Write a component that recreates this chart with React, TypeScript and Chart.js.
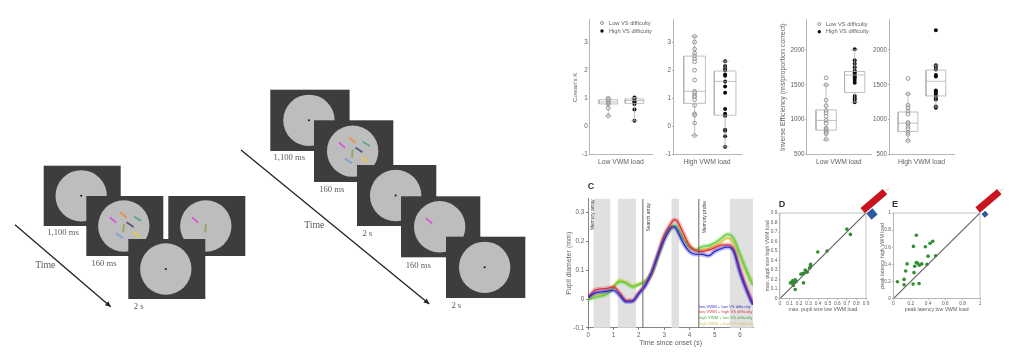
import React, { useEffect, useRef } from "react";
import { Chart, registerables } from "chart.js";

Chart.register(...registerables);

// ---------- Panel A: Cowan's K (box stats are [low whisker, q1, median, q3, high whisker])
const kTicks = [-1, 0, 1, 2, 3];
const kLowLoadEasy = [0.38, 0.65, 0.8, 0.84, 0.88, 0.92, 0.96, 1.0];
const kLowLoadHard = [0.2, 0.6, 0.8, 0.85, 0.9, 0.95, 1.0, 1.03];
const kLowLoadEasyBox = [0.38, 0.8, 0.87, 0.95, 1.0];
const kLowLoadHardBox = [0.2, 0.82, 0.92, 0.98, 1.03];
const kHighLoadEasy = [3.2, 3.0, 2.75, 2.6, 2.5, 2.4, 2.3, 2.0, 1.65, 1.25, 1.2, 1.1, 1.05, 0.95, 0.75, 0.45, 0.4, 0.12, -0.32];
const kHighLoadHard = [2.32, 2.15, 2.05, 2.0, 1.85, 1.8, 1.6, 1.42, 1.2, 0.62, 0.45, 0.4, 0.38, -0.12, -0.15, -0.35, -0.72];
const kHighLoadEasyBox = [-0.32, 0.82, 1.25, 2.5, 3.2];
const kHighLoadHardBox = [-0.72, 0.4, 1.6, 1.97, 2.32];

// ---------- Panel B: Inverse efficiency
const ieTicks = [500, 1000, 1500, 2000];
const ieLowLoadEasy = [1600, 1500, 1280, 1200, 1130, 1100, 1050, 990, 950, 880, 860, 840, 820, 800, 720];
const ieLowLoadHard = [2010, 1850, 1800, 1750, 1700, 1680, 1650, 1620, 1600, 1570, 1530, 1340, 1310, 1290, 1250];
const ieLowLoadEasyBox = [710, 850, 990, 1140, 1500];
const ieLowLoadHardBox = [1250, 1390, 1640, 1690, 2000];
const ieHighLoadEasy = [1590, 1370, 1210, 1170, 1120, 1080, 960, 940, 900, 870, 820, 790, 700];
const ieHighLoadHard = [2280, 1780, 1760, 1720, 1640, 1620, 1420, 1400, 1370, 1340, 1300, 1290, 1190, 1170];
const ieHighLoadEasyBox = [700, 830, 950, 1110, 1370];
const ieHighLoadHardBox = [1180, 1340, 1550, 1710, 1780];

// ---------- Panel C: pupil traces
const cXTicks = [0, 1, 2, 3, 4, 5, 6];
const cYTicks = [-0.1, 0, 0.1, 0.2, 0.3];
const times = [0, 0.25, 0.5, 0.75, 1, 1.25, 1.5, 1.75, 2, 2.25, 2.5, 2.75, 3, 3.25, 3.4, 3.5, 3.75, 4, 4.25, 4.5, 4.75, 5, 5.25, 5.5, 5.75, 6, 6.25, 6.5];
const pupilBlue = [0.005, 0.02, 0.024, 0.027, 0.03, 0.012, -0.01, -0.008, 0.018, 0.045, 0.09, 0.15, 0.205, 0.245, 0.25, 0.24, 0.195, 0.165, 0.155, 0.155, 0.15, 0.165, 0.175, 0.18, 0.165, 0.09, 0.03, -0.02];
const pupilRed = [0.005, 0.03, 0.035, 0.037, 0.042, 0.02, -0.005, -0.005, 0.022, 0.05, 0.09, 0.155, 0.22, 0.26, 0.275, 0.272, 0.23, 0.185, 0.168, 0.165, 0.17, 0.178, 0.187, 0.188, 0.172, 0.1, 0.04, -0.015];
const pupilGreen = [-0.002, 0.005, 0.01, 0.018, 0.04, 0.06, 0.055, 0.042, 0.05, 0.06, 0.09, 0.15, 0.215, 0.25, 0.255, 0.25, 0.21, 0.18, 0.17, 0.182, 0.185, 0.195, 0.21, 0.225, 0.21, 0.155, 0.1, 0.048];
const pupilYellow = [0, 0.012, 0.015, 0.02, 0.045, 0.065, 0.058, 0.045, 0.052, 0.062, 0.085, 0.145, 0.205, 0.24, 0.25, 0.248, 0.215, 0.185, 0.17, 0.172, 0.175, 0.185, 0.198, 0.212, 0.195, 0.15, 0.095, 0.05];
const bandStarts = [0.21, 1.17, 3.29, 5.6];
const bandEnds = [0.87, 1.89, 3.59, 6.51];
const eventTimes = [2.16, 4.37];
const eventNames = ["Memory array", "Search array", "Memory probe"];
const traceNames = ["low VWM + low VS difficulty", "low VWM + high VS difficulty", "high VWM + low VS difficulty", "high VWM + high VS difficulty"];

// ---------- Panels D and E: scatter
const dTicks = [0, 0.1, 0.2, 0.3, 0.4, 0.5, 0.6, 0.7, 0.8, 0.9];
const eTicks = [0, 0.2, 0.4, 0.6, 0.8, 1];
const sizeLow = [0.7, 0.737, 0.396, 0.493, 0.32, 0.16, 0.247, 0.135, 0.16, 0.11, 0.135, 0.14, 0.17, 0.22, 0.24, 0.264, 0.25, 0.285, 0.31, 0.32, 0.275, 0.12, 0.15];
const sizeHigh = [0.73, 0.675, 0.49, 0.5, 0.36, 0.095, 0.165, 0.19, 0.197, 0.165, 0.158, 0.137, 0.18, 0.257, 0.264, 0.3, 0.267, 0.278, 0.32, 0.34, 0.285, 0.17, 0.175];
const latencyLow = [0.046, 0.123, 0.123, 0.227, 0.296, 0.142, 0.158, 0.238, 0.246, 0.265, 0.231, 0.369, 0.423, 0.454, 0.4, 0.488, 0.388, 0.28, 0.3, 0.327, 0.265];
const latencyHigh = [0.197, 0.224, 0.161, 0.169, 0.177, 0.323, 0.405, 0.303, 0.378, 0.74, 0.61, 0.606, 0.646, 0.669, 0.496, 0.5, 0.4, 0.413, 0.39, 0.405, 0.42];

// ---------- Text
const difficultyNames = ["Low VS difficulty", "High VS difficulty"];
const loadNames = ["Low VWM load", "High VWM load"];

const GREY = "#5f5f5f";
const SANS = "'Liberation Sans', Arial, sans-serif";
const SERIF = "'Liberation Serif', 'Times New Roman', serif";

function boxPath(x: number, s: number[]) {
  const w = 0.355;
  const c = 0.12;
  const [lo, q1, med, q3, hi] = s;
  return [
    { x: x - w, y: q1 }, { x: x + w, y: q1 }, { x: x + w, y: q3 }, { x: x - w, y: q3 }, { x: x - w, y: q1 }, { x: NaN, y: NaN },
    { x: x - w, y: med }, { x: x + w, y: med }, { x: NaN, y: NaN },
    { x, y: q3 }, { x, y: hi }, { x: NaN, y: NaN },
    { x, y: lo }, { x, y: q1 }, { x: NaN, y: NaN },
    { x: x - c, y: hi }, { x: x + c, y: hi }, { x: NaN, y: NaN },
    { x: x - c, y: lo }, { x: x + c, y: lo },
  ];
}

function boxDatasets(easy: number[], hard: number[], easyBox: number[], hardBox: number[]) {
  const path = (x: number, s: number[]) => ({
    data: boxPath(x, s), showLine: true, pointRadius: 0, borderColor: "#b0b0b0", borderWidth: 0.8, spanGaps: false,
  });
  return [
    path(1, easyBox),
    path(2, hardBox),
    { data: easy.map((y) => ({ x: 1, y })), pointRadius: 1.9, pointBackgroundColor: "rgba(255,255,255,0.4)", pointBorderColor: "#7d7d7d", pointBorderWidth: 0.8 },
    { data: hard.map((y) => ({ x: 2, y })), pointRadius: 2, pointBackgroundColor: "#0c0c0c", pointBorderColor: "#0c0c0c", pointBorderWidth: 0 },
  ];
}

type Spec = {
  l: number; t: number; r: number; b: number;
  datasets: any[];
  xMin: number; xMax: number; yMin: number; yMax: number;
  yTicks: number[]; xTicksAt?: number[];
  yTitle?: string; xTitle?: string;
  yTitleX?: number; xTitleY?: number;
  yTitleSize: number; xTitleSize: number; tickSize: number;
  frame?: boolean; bands?: boolean;
  yFmt?: (v: number) => string; xFmt?: (v: number) => string;
  tickLen: number; axisColor: string; tickPad: number;
};

function trace(values: number[], color: string) {
  return [
    { data: values.map((y, i) => ({ x: times[i], y })), showLine: true, pointRadius: 0, borderColor: color + "50", borderWidth: 4.5, cubicInterpolationMode: "monotone" },
    { data: values.map((y, i) => ({ x: times[i], y })), showLine: true, pointRadius: 0, borderColor: color, borderWidth: 1.4, cubicInterpolationMode: "monotone" },
  ];
}

const cDatasets = [
  ...eventTimes.map((x) => ({ data: [{ x, y: -0.1 }, { x, y: 0.348 }], showLine: true, pointRadius: 0, borderColor: "#666", borderWidth: 1 })),
  ...trace(pupilBlue, "#2c2cd6"),
  ...trace(pupilRed, "#e0323c"),
  ...trace(pupilGreen, "#5cd040"),
  ...trace(pupilYellow, "#e6c63c"),
];

function scatterDatasets(xs: number[], ys: number[], top: number) {
  return [
    { data: [{ x: 0, y: 0 }, { x: top, y: top }], showLine: true, pointRadius: 0, borderColor: "#666", borderWidth: 1.2 },
    { data: xs.map((x, i) => ({ x, y: ys[i] })), pointRadius: 1.8, pointBackgroundColor: "#2f8f2f", pointBorderWidth: 0 },
  ];
}

const boxCommon = { xTitleSize: 6.8, yTitleSize: 6.2, tickSize: 6.3, tickLen: 1, axisColor: "#adadad", tickPad: 1 };
const scatterCommon = { frame: true, xTitleSize: 5.2, yTitleSize: 5.2, tickSize: 4.8, tickLen: 1.5, axisColor: "#b5b5b5", tickPad: 1 };
const fmt1 = (v: number) => (v === 0 || v === 1 ? String(v) : v.toFixed(1));

const panels: Spec[] = [
  { ...boxCommon, l: 590, t: 19, r: 652.7, b: 154.7, datasets: boxDatasets(kLowLoadEasy, kLowLoadHard, kLowLoadEasyBox, kLowLoadHardBox), xMin: 0.29, xMax: 2.67, yMin: -1, yMax: 3.79, yTicks: kTicks, yTitle: "Cowan's K", yTitleX: 576, xTitle: loadNames[0], xTitleY: 162 },
  { ...boxCommon, l: 673.3, t: 19, r: 741.7, b: 154.7, datasets: boxDatasets(kHighLoadEasy, kHighLoadHard, kHighLoadEasyBox, kHighLoadHardBox), xMin: 0.293, xMax: 2.52, yMin: -1, yMax: 3.79, yTicks: kTicks, xTitle: loadNames[1], xTitleY: 162 },
  { ...boxCommon, yTitleSize: 7, l: 806.3, t: 19, r: 871, b: 154.7, datasets: boxDatasets(ieLowLoadEasy, ieLowLoadHard, ieLowLoadEasyBox, ieLowLoadHardBox), xMin: 0.314, xMax: 2.57, yMin: 500, yMax: 2431, yTicks: ieTicks, yTitle: "Inverse Efficiency (ms/proportion correct)", yTitleX: 783, xTitle: loadNames[0], xTitleY: 162 },
  { ...boxCommon, l: 888.7, t: 19, r: 954, b: 154.7, datasets: boxDatasets(ieHighLoadEasy, ieHighLoadHard, ieHighLoadEasyBox, ieHighLoadHardBox), xMin: 0.32, xMax: 2.65, yMin: 500, yMax: 2431, yTicks: ieTicks, xTitle: loadNames[1], xTitleY: 162 },
  { l: 588, t: 196.7, r: 753, b: 327, datasets: cDatasets, xMin: 0, xMax: 6.51, yMin: -0.1, yMax: 0.348, yTicks: cYTicks, xTicksAt: cXTicks, yTitle: "Pupil diameter (mm)", yTitleX: 569, xTitle: "Time since onset (s)", xTitleY: 342, xTitleSize: 7, yTitleSize: 7, tickSize: 6.3, bands: true, tickLen: 2, axisColor: "#777", tickPad: 2, yFmt: (v) => (Math.abs(v) < 1e-9 ? "0" : v.toFixed(1)) },
  { ...scatterCommon, l: 780.3, t: 213.3, r: 866.7, b: 298.7, datasets: scatterDatasets(sizeLow, sizeHigh, 0.9), xMin: 0, xMax: 0.9, yMin: 0, yMax: 0.9, yTicks: dTicks, xTicksAt: dTicks, yTitle: "max. pupil size high VWM load", yTitleX: 767.5, xTitle: "max. pupil size low VWM load", xTitleY: 310, yFmt: fmt1, xFmt: fmt1 },
  { ...scatterCommon, l: 893.3, t: 213.3, r: 980, b: 298.7, datasets: scatterDatasets(latencyLow, latencyHigh, 1), xMin: 0, xMax: 1, yMin: 0, yMax: 1, yTicks: eTicks, xTicksAt: eTicks, yTitle: "peak latency high VWM load", yTitleX: 882, xTitle: "peak latency low VWM load", xTitleY: 310, yFmt: fmt1, xFmt: fmt1 },
];

const panelPlugin = {
  id: "panelExtras",
  beforeDatasetsDraw(chart: any, _a: any, o: any) {
    if (!o.bands) return;
    const { ctx, chartArea: a, scales } = chart;
    ctx.save();
    ctx.fillStyle = "#e0e0e0";
    bandStarts.forEach((s, i) => {
      const x0 = scales.x.getPixelForValue(s);
      const x1 = scales.x.getPixelForValue(bandEnds[i]);
      ctx.fillRect(x0, a.top, x1 - x0, a.bottom - a.top);
    });
    ctx.restore();
  },
  afterDraw(chart: any, _a: any, o: any) {
    if (!o.frame) return;
    const { ctx, chartArea: a } = chart;
    ctx.save();
    ctx.strokeStyle = "#b5b5b5";
    ctx.lineWidth = 0.8;
    ctx.strokeRect(a.left, a.top, a.right - a.left, a.bottom - a.top);
    ctx.restore();
  },
};

function Panel({ s }: { s: Spec }) {
  const ref = useRef<HTMLCanvasElement>(null);
  const lhY = s.yTitleSize * 1.2;
  const lhX = s.xTitleSize * 1.2;
  const padL = s.yTitleX !== undefined ? s.l - s.yTitleX + lhY / 2 : 22;
  const padB = s.xTitleY !== undefined ? s.xTitleY - s.b + lhX / 2 : 16;
  const padT = 4;
  const padR = 8;
  const left = s.l - padL;
  const top = s.t - padT;
  const w = s.r - s.l + padL + padR;
  const h = s.b - s.t + padT + padB;
  const showX = !!s.xTicksAt;
  useEffect(() => {
    const chart = new Chart(ref.current as HTMLCanvasElement, {
      type: "scatter",
      data: { datasets: s.datasets },
      options: {
        animation: false,
        responsive: false,
        devicePixelRatio: 1,
        layout: { autoPadding: false, padding: { top: padT, right: padR, left: 0, bottom: 0 } },
        plugins: { legend: { display: false }, tooltip: { enabled: false }, panelExtras: { frame: s.frame, bands: s.bands } },
        scales: {
          x: {
            type: "linear", min: s.xMin, max: s.xMax,
            afterFit: (sc: any) => { sc.height = padB; },
            afterBuildTicks: (sc: any) => { if (s.xTicksAt) sc.ticks = s.xTicksAt.map((value) => ({ value })); },
            grid: { display: showX, drawOnChartArea: false, tickLength: s.tickLen, color: s.axisColor },
            border: { color: s.axisColor, width: 0.9 },
            ticks: { display: showX, autoSkip: false, maxRotation: 0, color: GREY, padding: s.tickPad, font: { family: SANS, size: s.tickSize }, callback: (v: any) => (s.xFmt ? s.xFmt(v) : String(v)) },
            title: { display: !!s.xTitle, text: s.xTitle, color: GREY, padding: 0, font: { family: SANS, size: s.xTitleSize } },
          },
          y: {
            type: "linear", min: s.yMin, max: s.yMax,
            afterFit: (sc: any) => { sc.width = padL; },
            afterBuildTicks: (sc: any) => { sc.ticks = s.yTicks.map((value) => ({ value })); },
            grid: { display: true, drawOnChartArea: false, tickLength: s.tickLen, color: s.axisColor },
            border: { color: s.axisColor, width: 0.9 },
            ticks: { autoSkip: false, color: GREY, padding: s.tickPad, font: { family: SANS, size: s.tickSize }, callback: (v: any) => (s.yFmt ? s.yFmt(v) : String(v)) },
            title: { display: !!s.yTitle, text: s.yTitle, color: GREY, padding: 0, font: { family: SANS, size: s.yTitleSize } },
          },
        },
      } as any,
      plugins: [panelPlugin],
    } as any);
    return () => chart.destroy();
  }, []);
  return <canvas ref={ref} width={Math.round(w)} height={Math.round(h)} style={{ position: "absolute", left, top, width: Math.round(w), height: Math.round(h) }} />;
}

// ---------- Schematics (stimulus sequences), in page coordinates of the overlay chart's scales
const FW = 77;
const framesA = [[43.7, 165.7], [86.3, 196], [168.3, 196], [128.3, 239]];
const framesB = [[270.3, 89.7], [314, 120.3], [357, 165], [401, 196.3], [446, 236.7]];
const FW2 = 79.3;
const stimColors = ["#d85ad8", "#e0934a", "#5fa58c", "#55557f", "#93a85a", "#7fa0d8", "#e6c84a"];
const stimAngles = [40, 40, 30, 35, 95, 35, 45];
const stimOffsetA = [[-10.7, -6], [-0.3, -11], [13.7, -7.3], [6.3, -1.3], [-0.3, 2.3], [-4.3, 9.7], [12.7, 8.7]];

const arrows = [[15, 224.7, 110.7, 306.7], [241, 150, 429.3, 304]];
const schematicTexts: [string, number, number][] = [
  ["1,100 ms", 63, 232.7], ["160 ms", 104, 264], ["Time", 45.3, 265], ["2 s", 138.7, 306.3],
  ["1,100 ms", 289.3, 158], ["160 ms", 331.7, 190], ["Time", 314.3, 225], ["2 s", 367.3, 233.7], ["160 ms", 418.3, 265.3], ["2 s", 456.3, 305.7],
];
const panelLetters: [string, number, number][] = [["C", 591, 187], ["D", 782, 205], ["E", 895, 205]];
const legendSpots = [[602, 609, 23, 31], [819.3, 826, 24, 31.7]];
const eventLabelSpots = [[592.5, 199.5], [648.5, 203], [704.5, 201]];
const traceColors = ["#3a3ac8", "#d84048", "#4aa84a", "#d8c060"];
const traceLegendY = [307, 312, 317.7, 323.5];
const scaleMarks = [
  { red: [862.7, 210.7, 885, 191.7], blue: [872, 214], blueSize: 8 },
  { red: [977.7, 210, 999.3, 191.7], blue: [985, 214.3], blueSize: 5 },
];

function drawSchematic(chart: any) {
  const { ctx, scales } = chart;
  const X = (v: number) => scales.x.getPixelForValue(v);
  const Y = (v: number) => scales.y.getPixelForValue(v);

  const frame = (fx: number, fy: number, w: number, h: number, r: number) => {
    ctx.fillStyle = "#3d3d3d";
    ctx.fillRect(X(fx), Y(fy), w, h);
    ctx.fillStyle = "#bdbdbd";
    ctx.beginPath();
    ctx.arc(X(fx + w / 2 - 1), Y(fy + h / 2), r, 0, Math.PI * 2);
    ctx.fill();
    return [fx + w / 2 - 1, fy + h / 2];
  };
  const dot = (c: number[]) => {
    ctx.fillStyle = "#111";
    ctx.beginPath();
    ctx.arc(X(c[0]), Y(c[1]), 1, 0, Math.PI * 2);
    ctx.fill();
  };
  const bar = (c: number[], i: number, off = stimOffsetA[i]) => {
    ctx.save();
    ctx.translate(X(c[0] + off[0]), Y(c[1] + off[1]));
    ctx.rotate((stimAngles[i] * Math.PI) / 180);
    ctx.fillStyle = stimColors[i];
    ctx.fillRect(-4.2, -0.9, 8.4, 1.8);
    ctx.restore();
  };

  // first sequence
  const c0 = frame(framesA[0][0], framesA[0][1], FW, 60.3, 25.7);
  dot(c0);
  const c1 = frame(framesA[1][0], framesA[1][1], FW, 60, 25.7);
  stimColors.forEach((_, i) => bar(c1, i));
  const c2 = frame(framesA[2][0], framesA[2][1], FW, 60, 25.7);
  bar(c2, 0);
  bar(c2, 4);
  const c3 = frame(framesA[3][0], framesA[3][1], FW, 60, 25.7);
  dot(c3);

  // second sequence
  const d0 = frame(framesB[0][0], framesB[0][1], FW2, 61.3, 25.7);
  dot(d0);
  const d1 = frame(framesB[1][0], framesB[1][1], FW2, 61.7, 25.7);
  stimColors.forEach((_, i) => bar(d1, i));
  const d2 = frame(framesB[2][0], framesB[2][1], FW2, 61, 25.7);
  dot(d2);
  const d3 = frame(framesB[3][0], framesB[3][1], FW2, 61, 25.7);
  bar(d3, 0);
  const d4 = frame(framesB[4][0], framesB[4][1], FW2, 61.3, 25.7);
  dot(d4);

  // arrows
  arrows.forEach(([x0, y0, x1, y1]) => {
    const ang = Math.atan2(y1 - y0, x1 - x0);
    ctx.strokeStyle = "#222";
    ctx.lineWidth = 1.3;
    ctx.beginPath();
    ctx.moveTo(X(x0), Y(y0));
    ctx.lineTo(X(x1), Y(y1));
    ctx.stroke();
    ctx.fillStyle = "#222";
    ctx.beginPath();
    ctx.moveTo(X(x1), Y(y1));
    ctx.lineTo(X(x1) - 6 * Math.cos(ang - 0.45), Y(y1) - 6 * Math.sin(ang - 0.45));
    ctx.lineTo(X(x1) - 6 * Math.cos(ang + 0.45), Y(y1) - 6 * Math.sin(ang + 0.45));
    ctx.closePath();
    ctx.fill();
  });

  // serif captions
  ctx.textBaseline = "middle";
  ctx.textAlign = "center";
  ctx.fillStyle = "#5a5a5a";
  schematicTexts.forEach(([t, x, y]) => {
    ctx.font = `${t === "Time" ? 9.8 : 8.6}px ${SERIF}`;
    ctx.fillText(t, X(x), Y(y));
  });

  // panel letters
  ctx.fillStyle = "#333";
  ctx.font = `bold 9px ${SANS}`;
  panelLetters.forEach(([t, x, y]) => ctx.fillText(t, X(x), Y(y)));

  // box-plot legends
  ctx.textAlign = "left";
  legendSpots.forEach(([mx, tx, y0, y1]) => {
    [y0, y1].forEach((y, i) => {
      ctx.beginPath();
      ctx.arc(X(mx), Y(y), i === 0 ? 1.5 : 1.7, 0, Math.PI * 2);
      if (i === 0) {
        ctx.strokeStyle = "#777";
        ctx.lineWidth = 0.8;
        ctx.stroke();
      } else {
        ctx.fillStyle = "#0c0c0c";
        ctx.fill();
      }
      ctx.fillStyle = GREY;
      ctx.font = `5.7px ${SANS}`;
      ctx.fillText(difficultyNames[i], X(tx), Y(y));
    });
  });

  // event labels in panel C
  eventNames.forEach((t, i) => {
    const [x, y] = eventLabelSpots[i];
    ctx.save();
    ctx.translate(X(x), Y(y));
    ctx.rotate(-Math.PI / 2);
    ctx.textAlign = "right";
    ctx.fillStyle = "#444";
    ctx.font = `5px ${SANS}`;
    ctx.fillText(t, 0, 0);
    ctx.restore();
  });

  // trace legend in panel C
  ctx.textAlign = "left";
  ctx.font = `4.2px ${SANS}`;
  traceNames.forEach((t, i) => {
    ctx.fillStyle = traceColors[i];
    ctx.fillText(t, X(699), Y(traceLegendY[i]));
  });

  // red and blue marks on the diagonals
  scaleMarks.forEach((m) => {
    ctx.save();
    ctx.translate(X(m.blue[0]), Y(m.blue[1]));
    ctx.rotate(-0.7);
    ctx.fillStyle = "#2c5aa0";
    ctx.fillRect(-m.blueSize / 2, -m.blueSize / 2, m.blueSize, m.blueSize);
    ctx.restore();
    ctx.strokeStyle = "#c8141e";
    ctx.lineWidth = 7;
    ctx.beginPath();
    ctx.moveTo(X(m.red[0]), Y(m.red[1]));
    ctx.lineTo(X(m.red[2]), Y(m.red[3]));
    ctx.stroke();
    ctx.strokeStyle = "#bbb";
    ctx.lineWidth = 0.8;
    ctx.beginPath();
    ctx.moveTo(X(m.red[2] + 1), Y(m.red[3] - 1));
    ctx.lineTo(X(m.red[2] + 4), Y(m.red[3] - 3));
    ctx.stroke();
  });
}

function Overlay() {
  const ref = useRef<HTMLCanvasElement>(null);
  useEffect(() => {
    const chart = new Chart(ref.current as HTMLCanvasElement, {
      type: "scatter",
      data: { datasets: [{ data: [] }] },
      options: {
        animation: false,
        responsive: false,
        devicePixelRatio: 1,
        layout: { autoPadding: false, padding: 0 },
        plugins: { legend: { display: false }, tooltip: { enabled: false } },
        scales: {
          x: { type: "linear", min: 0, max: 1024, display: false },
          y: { type: "linear", min: 0, max: 356, reverse: true, display: false },
        },
      },
      plugins: [{ id: "schematic", afterDraw: drawSchematic }],
    } as any);
    return () => chart.destroy();
  }, []);
  return <canvas ref={ref} width={1024} height={356} style={{ position: "absolute", left: 0, top: 0, width: 1024, height: 356 }} />;
}

export default function App() {
  useEffect(() => {
    document.body.style.margin = "0";
    document.body.style.background = "#fff";
  }, []);
  return (
    <div style={{ position: "relative", width: 1024, height: 356, overflow: "hidden", background: "#fff", filter: "blur(0.6px)" }}>
      {panels.map((s, i) => (
        <Panel key={i} s={s} />
      ))}
      <Overlay />
    </div>
  );
}
